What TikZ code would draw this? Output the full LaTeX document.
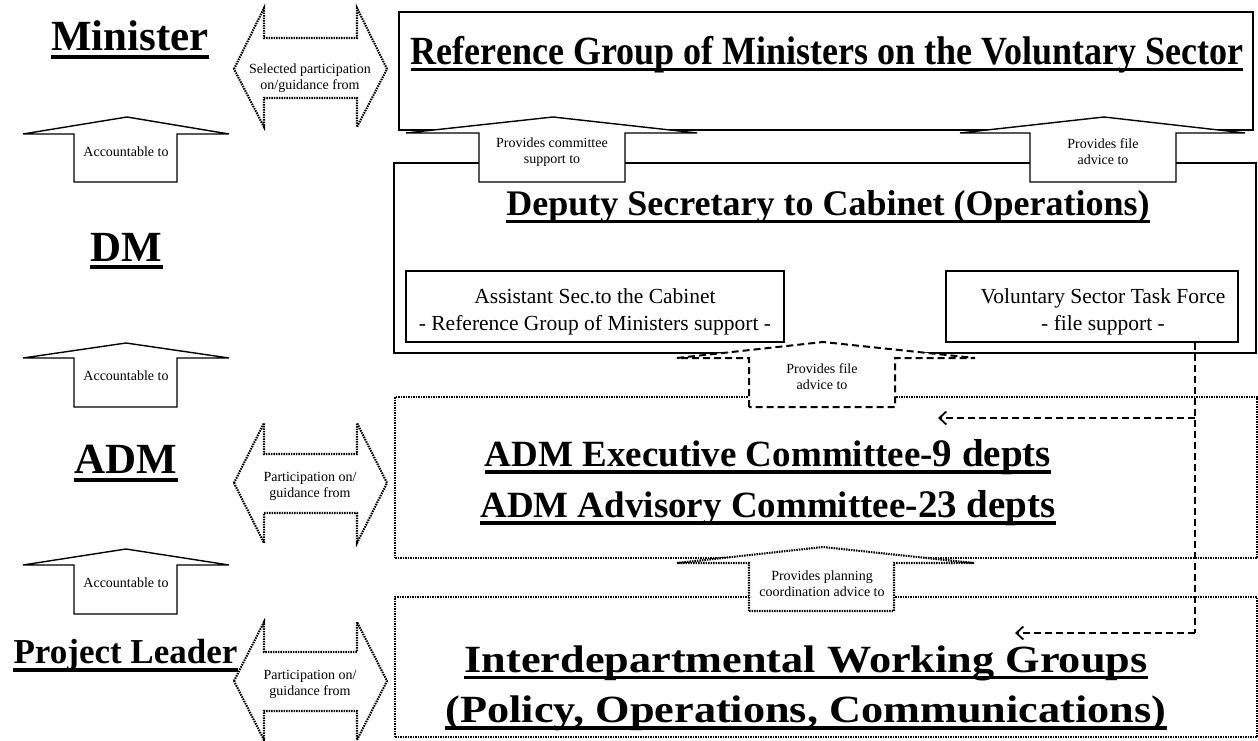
\documentclass[tikz,border=0pt]{standalone}
\usepackage{fontspec}
\setmainfont{Liberation Serif}
\newfontfamily\condf{Liberation Serif}[FakeStretch=0.9]
\newfontfamily\widef{Liberation Serif}[FakeStretch=1.15]
\usetikzlibrary{arrows.meta,fit}
\newcommand{\ulin}[3]{\draw[line width=#2] ([yshift=-#3]#1.base west) -- ([yshift=-#3]#1.base east);}
\tikzset{
  solidln/.style={line width=1.4pt},
  dotln/.style={line width=2.1pt, dash pattern=on 1.5pt off 1pt},
  dashln/.style={line width=2pt, dash pattern=on 7pt off 4pt},
  boxfit/.style={draw, inner sep=0pt},
  small/.style={font=\fontsize{14}{16}\selectfont, align=center, inner sep=0pt},
  mid/.style={font=\fontsize{21.5}{27}\selectfont, anchor=base, inner sep=0pt},
  lbl/.style={font=\bfseries\fontsize{43}{50}\selectfont, anchor=base, inner sep=0pt},
  arrowfill/.style={fill=white},
  barb/.style={-{Straight Barb[length=7pt,width=13pt,line width=1.8pt]}}
}
\begin{document}
\begin{tikzpicture}[x=1pt,y=-1pt]
\useasboundingbox (0,0) rectangle (1258,741);

% ---------- boxes ----------
\node[boxfit, solidln, fit={(399,12) (1253,130)}] (top) {};
\node[boxfit, solidln, fit={(394,163) (1256,353)}] (dep) {};
\node[boxfit, solidln, fit={(406,271) (784,342)}] (asst) {};
\node[boxfit, solidln, fit={(946,271) (1238,342)}] (vol) {};
\node[boxfit, dotln, fit={(395,397) (1257,558)}] (admbox) {};
\node[boxfit, dotln, fit={(395,597) (1257,737)}] (iwg) {};

% ---------- titles ----------
\node[anchor=base, inner sep=0pt, font=\condf\bfseries\fontsize{40}{48}\selectfont] (ttl) at (827,65) {Reference Group of Ministers on the Voluntary Sector};
\ulin{ttl}{3pt}{5pt}
\node[anchor=base, inner sep=0pt, font=\bfseries\fontsize{36}{43}\selectfont] (dtl) at (828,215) {Deputy Secretary to Cabinet (Operations)};
\ulin{dtl}{3pt}{6pt}

\node[mid] (as1) at (595,303) {Assistant Sec.to the Cabinet};
\node[mid] (as2) at (595,330) {- Reference Group of Ministers support -};
\node[mid] (vo1) at (1103,303) {Voluntary Sector Task Force};
\node[mid] (vo2) at (1103,330) {- file support -};

\node[anchor=base, inner sep=0pt, font=\bfseries] (adm1) at (768,466) {\fontsize{37}{44}\selectfont ADM Executive Committee-\fontsize{39}{46}\selectfont 9 depts};
\ulin{adm1}{3.5pt}{6pt}
\node[anchor=base, inner sep=0pt, font=\bfseries] (adm2) at (768,517) {\fontsize{37}{44}\selectfont ADM Advisory Committee-\fontsize{39}{46}\selectfont 23 depts};
\ulin{adm2}{3.5pt}{6pt}

\node[anchor=base, inner sep=0pt, font=\widef\bfseries\fontsize{38.5}{46}\selectfont] (iw1) at (806,672) {Interdepartmental Working Groups};
\ulin{iw1}{3.5pt}{5.5pt}
\node[anchor=base, inner sep=0pt, font=\widef\bfseries\fontsize{38.5}{46}\selectfont] (iw2) at (806,722) {(Policy, Operations, Communications)};
\ulin{iw2}{3.5pt}{6pt}

% ---------- left labels ----------
\node[lbl] (lmin) at (130,51) {Minister};
\ulin{lmin}{4pt}{6pt}
\node[lbl] (ldm) at (126.5,261) {DM};
\ulin{ldm}{4pt}{6pt}
\node[lbl] (ladm) at (126,473) {ADM};
\ulin{ladm}{4pt}{7pt}
\node[lbl, font=\bfseries\fontsize{35}{42}\selectfont] (lpl) at (125.5,663) {Project Leader};
\ulin{lpl}{4pt}{7pt}

% ---------- accountable arrows ----------
\draw[solidln, arrowfill] (74,182) -- (74,134) -- (23,134) -- (127,117) -- (229,134) -- (177,134) -- (177,182) -- cycle;
\node[small] (acc1) at (126,152) {Accountable to};
\draw[solidln, arrowfill] (74,407) -- (74,358) -- (23,358) -- (126,343) -- (229,358) -- (177,358) -- (177,407) -- cycle;
\node[small] (acc2) at (126,376) {Accountable to};
\draw[solidln, arrowfill] (74,614) -- (74,565) -- (23,565) -- (126,549) -- (229,565) -- (177,565) -- (177,614) -- cycle;
\node[small] (acc3) at (126,583) {Accountable to};

% ---------- double arrows ----------
\draw[dotln, arrowfill] (234,69) -- (264,8) -- (264,38) -- (357,38) -- (357,8) -- (387,69) -- (357,127) -- (357,98) -- (264,98) -- (264,127) -- cycle;
\node[small] (da1) at (310,78) {Selected participation\\on/guidance from};
\draw[dotln, arrowfill] (234,483) -- (264,423) -- (264,454) -- (357,454) -- (357,423) -- (387,483) -- (357,543) -- (357,513) -- (264,513) -- (264,543) -- cycle;
\node[small] (da2) at (310,486) {Participation on/\\guidance from};
\draw[dotln, arrowfill] (234,681) -- (264,622) -- (264,652) -- (357,652) -- (357,622) -- (387,681) -- (357,740) -- (357,711) -- (264,711) -- (264,740) -- cycle;
\node[small] (da3) at (310,684) {Participation on/\\guidance from};

% ---------- up arrows between boxes ----------
\draw[solidln, arrowfill] (479,182) -- (479,133) -- (406,133) -- (553,117) -- (697,133) -- (625,133) -- (625,182) -- cycle;
\node[small] (pc) at (552,152) {Provides committee\\support to};
\draw[solidln, arrowfill] (1030,182) -- (1030,133) -- (960,133) -- (1104,117) -- (1245,133) -- (1176,133) -- (1176,182) -- cycle;
\node[small] (pf) at (1103,152) {Provides file\\advice to};
\draw[dashln, arrowfill] (749,407) -- (749,358) -- (677,358) -- (823,342) -- (975,358) -- (895,358) -- (895,407) -- cycle;
\node[small] (pf2) at (822,377) {Provides file\\advice to};
\draw[dotln, arrowfill] (749,611) -- (749,563) -- (677,563) -- (823,547) -- (974,563) -- (894,563) -- (894,611) -- cycle;
\node[small] (pp) at (822,584) {Provides planning\\coordination advice to};

% ---------- dashed connectors ----------
\coordinate (j1) at (1195,418);
\coordinate (j2) at (1195,633);
\coordinate (e1) at (938,418);
\coordinate (e2) at (1015,633);
\draw[dashln] (vol.south -| j1) -- (j2);
\draw[dashln, barb] (j1) -- (e1);
\draw[dashln, barb] (j2) -- (e2);
\end{tikzpicture}
\end{document}
